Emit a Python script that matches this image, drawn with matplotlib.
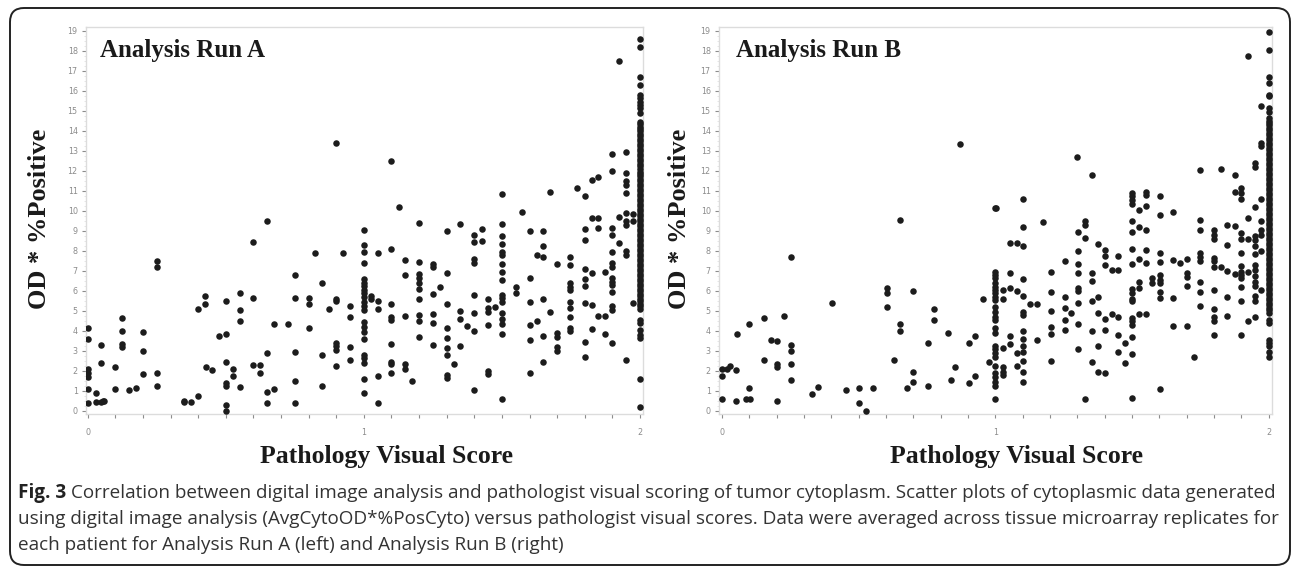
import numpy as np
import matplotlib
matplotlib.use("Agg")
import matplotlib.pyplot as plt
from matplotlib.patches import FancyBboxPatch
from matplotlib.ticker import MultipleLocator

# Run A: (pathology score, OD * %positive)
run_a_points = [
    (0, 4.15), (0, 3.57), (0, 2.08), (0, 1.9), (0, 1.7), (0, 1.07), (0, 0.38),
    (0.03, 0.87), (0.03, 0.43), (0.05, 3.28), (0.05, 2.37), (0.05, 0.45), (0.055, 0.48), (0.06, 0.48),
    (0.1, 2.18), (0.1, 1.07), (0.125, 4.62), (0.125, 4.0), (0.125, 3.35), (0.125, 3.2),
    (0.15, 1.03), (0.175, 1.15), (0.2, 3.95), (0.2, 3.0), (0.2, 1.82),
    (0.25, 7.5), (0.25, 7.18), (0.25, 1.87), (0.25, 1.25),
    (0.35, 0.5), (0.35, 0.43), (0.375, 0.43), (0.4, 0.75), (0.4, 5.1),
    (0.425, 5.73), (0.425, 5.33), (0.43, 2.2), (0.45, 2.02), (0.475, 3.72),
    (0.5, 3.82), (0.5, 5.5), (0.5, 2.45), (0.5, 1.4), (0.5, 1.25), (0.5, 0.27), (0.5, 0.0),
    (0.525, 2.08), (0.525, 1.72), (0.55, 5.88), (0.55, 5.02), (0.55, 4.47), (0.55, 1.17),
    (0.6, 8.45), (0.6, 5.65), (0.6, 2.27), (0.625, 2.27), (0.625, 1.87),
    (0.65, 9.5), (0.65, 2.88), (0.65, 0.95), (0.65, 0.4), (0.675, 4.32), (0.675, 1.08),
    (0.725, 4.32), (0.75, 6.77), (0.75, 5.65), (0.75, 2.93), (0.75, 1.5), (0.75, 0.4),
    (0.825, 7.87), (0.8, 5.62), (0.8, 5.32), (0.8, 4.12), (0.85, 6.4), (0.85, 2.78), (0.85, 1.25),
    (0.875, 5.1), (0.9, 13.4), (0.9, 5.6), (0.9, 5.5), (0.9, 3.4), (0.9, 3.23), (0.9, 3.03), (0.9, 2.23),
    (0.925, 7.87), (0.95, 5.22), (0.95, 4.7), (0.95, 3.18), (0.95, 2.53),
    (1.925, 17.5), (1.1, 12.5), (1.127, 10.2), (1.0, 9.05), (1.2, 9.4), (1.3, 9.0), (1.35, 9.33),
    (1.4, 8.78), (1.427, 9.08), (1.5, 10.83), (1.5, 9.34), (1.5, 8.74), (1.574, 9.93), (1.6, 8.98),
    (1.648, 8.98), (1.673, 10.96), (1.773, 11.16), (1.8, 10.73), (1.825, 11.55), (1.848, 11.71),
    (1.9, 12.85), (1.9, 11.98), (1.95, 12.96), (1.95, 11.88), (1.95, 11.5), (1.95, 11.3), (1.95, 10.9),
    (1.825, 9.63), (1.848, 9.63), (1.8, 9.08), (1.848, 9.13), (1.9, 9.16), (1.9, 8.8), (1.925, 9.7),
    (1.95, 9.9), (1.95, 9.5), (1.95, 9.3), (1.975, 9.85), (1.975, 9.5),
    (1.0, 8.29), (1.0, 7.96), (1.0, 7.4), (1.0, 6.57), (1.0, 6.4), (1.0, 6.24), (1.0, 6.04), (1.0, 5.87),
    (1.0, 5.67), (1.0, 5.46), (1.0, 5.24), (1.0, 5.04), (1.0, 4.45), (1.0, 4.2), (1.0, 3.95), (1.0, 3.57),
    (1.0, 2.79), (1.0, 2.62), (1.0, 2.4), (1.0, 1.58), (1.0, 0.87),
    (1.027, 5.74), (1.027, 5.57), (1.05, 7.9), (1.05, 5.49), (1.05, 5.07), (1.05, 1.73), (1.05, 0.4),
    (1.1, 8.07), (1.1, 5.34), (1.1, 4.7), (1.1, 4.54), (1.1, 3.34), (1.1, 2.45), (1.1, 2.34), (1.1, 1.9),
    (1.15, 7.54), (1.15, 6.79), (1.15, 4.74), (1.15, 2.34), (1.15, 2.07), (1.175, 1.5),
    (1.2, 7.42), (1.2, 6.84), (1.2, 6.62), (1.2, 6.4), (1.2, 6.07), (1.2, 5.59), (1.2, 4.79), (1.2, 4.49), (1.2, 3.67),
    (1.25, 7.32), (1.25, 7.2), (1.25, 5.84), (1.25, 4.82), (1.25, 4.37), (1.25, 3.29), (1.275, 6.17),
    (1.3, 6.9), (1.3, 5.32), (1.3, 4.12), (1.3, 3.62), (1.3, 3.12), (1.3, 2.79), (1.3, 1.79), (1.3, 1.62), (1.326, 2.32),
    (1.35, 4.99), (1.35, 4.57), (1.35, 3.25), (1.375, 4.24),
    (1.4, 8.46), (1.4, 7.57), (1.4, 7.41), (1.4, 5.79), (1.4, 4.87), (1.4, 4.0), (1.4, 1.03), (1.427, 8.5),
    (1.45, 5.57), (1.45, 5.12), (1.45, 4.95), (1.45, 4.29), (1.45, 2.0), (1.45, 1.84), (1.475, 5.17),
    (1.5, 8.32), (1.5, 7.96), (1.5, 7.79), (1.5, 7.32), (1.5, 6.96), (1.5, 6.54), (1.5, 5.79), (1.5, 5.62),
    (1.5, 5.46), (1.5, 4.87), (1.5, 4.57), (1.5, 4.34), (1.5, 3.84), (1.5, 0.57), (1.55, 6.2), (1.55, 5.87),
    (1.6, 6.62), (1.6, 5.46), (1.6, 4.29), (1.6, 3.54), (1.6, 1.87),
    (1.648, 8.26), (1.626, 7.79), (1.648, 7.71), (1.648, 5.61), (1.626, 4.5), (1.648, 3.74), (1.648, 2.45), (1.673, 4.92),
    (1.698, 7.32), (1.698, 3.87), (1.698, 3.67), (1.698, 3.2), (1.698, 2.99),
    (1.748, 7.71), (1.748, 7.29), (1.748, 6.37), (1.748, 6.2), (1.748, 6.04), (1.748, 5.46), (1.748, 5.12),
    (1.748, 4.7), (1.748, 4.12), (1.748, 4.0),
    (1.8, 8.54), (1.8, 7.09), (1.8, 6.57), (1.8, 6.24), (1.8, 5.4), (1.8, 3.45), (1.8, 2.67),
    (1.825, 6.87), (1.825, 5.29), (1.825, 4.07), (1.848, 4.75), (1.873, 6.92), (1.873, 4.75), (1.873, 3.84),
    (1.9, 7.92), (1.9, 7.4), (1.9, 7.2), (1.9, 6.62), (1.9, 6.45), (1.9, 6.29), (1.9, 5.95), (1.9, 5.24),
    (1.9, 5.04), (1.9, 3.4), (1.925, 8.4), (1.95, 8.0), (1.95, 7.79), (1.95, 2.54), (1.975, 5.37),
]
# patients scored 2 in run A (the dense column)
run_a_score2 = [
    18.6, 18.2, 16.7, 16.3, 15.8, 15.64, 15.47, 15.3, 15.13, 14.9,
    14.46, 14.35, 14.21, 14.1, 13.97, 13.85, 13.72, 13.6, 13.49, 13.35, 13.22, 13.1,
    12.98, 12.85, 12.72, 12.6, 12.47, 12.35, 12.22, 12.1, 11.96, 11.85, 11.72, 11.6,
    11.47, 11.35, 11.22, 11.1, 10.97, 10.85, 10.73, 10.6, 10.48, 10.35, 10.22, 10.1,
    9.97, 9.85, 9.73, 9.6, 9.48, 9.35, 9.22, 9.1, 8.97, 8.85, 8.72, 8.6, 8.47, 8.35,
    8.22, 8.1, 7.97, 7.85, 7.72, 7.6, 7.47, 7.35, 7.22, 7.1, 6.97, 6.85, 6.72, 6.6,
    6.47, 6.35, 6.22, 6.1, 5.97, 5.85, 5.72, 5.6, 5.47, 5.35, 5.22, 5.1,
    4.54, 4.37, 4.04, 3.79, 3.62, 1.58, 0.17,
]

# Run B
run_b_points = [
    (0, 2.08), (0.017, 2.08), (0.028, 2.25), (0, 1.75), (0, 0.58), (0.05, 2.04), (0.055, 3.84), (0.05, 0.5),
    (0.087, 0.58), (0.102, 0.58), (0.1, 4.32), (0.1, 1.12), (0.152, 4.62), (0.152, 2.54), (0.178, 3.54),
    (0.2, 3.5), (0.2, 2.34), (0.2, 2.17), (0.2, 0.5), (0.228, 4.76), (0.254, 7.68), (0.254, 3.26),
    (0.254, 2.99), (0.254, 2.34), (0.254, 1.54), (0.328, 0.82), (0.352, 1.2), (0.404, 5.39), (0.453, 1.04),
    (0.502, 1.12), (0.502, 0.4), (0.528, 0.0), (0.553, 1.15), (0.603, 6.16), (0.603, 5.91), (0.603, 5.18),
    (0.629, 2.54), (0.65, 9.55), (0.65, 4.32), (0.65, 3.96), (0.678, 1.15), (0.7, 6.01), (0.7, 1.95),
    (0.7, 1.45), (0.752, 3.37), (0.752, 1.24), (0.777, 5.08), (0.777, 4.54), (0.827, 3.87), (0.852, 2.19),
    (0.837, 1.54), (0.903, 3.37), (0.903, 1.37), (0.926, 3.72), (0.926, 1.75), (0.953, 5.61), (0.978, 2.45),
    (0.871, 13.36), (1.0, 10.13),
    (1, 6.96), (1, 6.79), (1, 6.63), (1, 6.38), (1, 6.21), (1, 6.04), (1, 5.88), (1, 5.71), (1, 5.54),
    (1, 5.18), (1, 4.96), (1, 4.71), (1, 4.54), (1, 4.12), (1, 3.87), (1, 3.24), (1, 3.07), (1, 2.9),
    (1, 2.7), (1, 2.24), (1, 1.87), (1, 1.7), (1, 1.45), (1, 1.25), (1, 0.58),
    (1.027, 6.04), (1.027, 5.59), (1.027, 3.12), (1.027, 2.2), (1.027, 1.95), (1.027, 1.79),
    (1.054, 6.88), (1.054, 6.13), (1.054, 3.71), (1.054, 3.34), (1.054, 8.41), (1.078, 8.41),
    (1.102, 9.18), (1.102, 8.25), (1.078, 5.99), (1.078, 2.87), (1.078, 2.25), (1.102, 6.58), (1.102, 5.74),
    (1.102, 4.96), (1.102, 4.79), (1.102, 3.96), (1.102, 3.57), (1.102, 3.24), (1.102, 2.94), (1.102, 2.49),
    (1.102, 1.95), (1.102, 1.45), (1.128, 5.34), (1.152, 5.34), (1.152, 3.54), (1.176, 9.42),
    (1.203, 6.93), (1.203, 5.96), (1.203, 5.01), (1.203, 4.17), (1.203, 3.82), (1.203, 2.5),
    (1.253, 7.51), (1.253, 5.68), (1.253, 5.13), (1.253, 4.54), (1.253, 4.04), (1.277, 4.87),
    (1.302, 8.96), (1.302, 8.01), (1.302, 7.33), (1.302, 6.88), (1.302, 6.16), (1.302, 5.99), (1.302, 5.38),
    (1.302, 4.32), (1.302, 3.09), (1.327, 9.47), (1.327, 9.3), (1.327, 8.63), (1.327, 0.58),
    (1.352, 6.88), (1.352, 6.49), (1.352, 5.51), (1.352, 3.96), (1.352, 2.45),
    (1.375, 8.35), (1.375, 5.68), (1.375, 4.91), (1.375, 3.21), (1.375, 1.95),
    (1.4, 8.05), (1.4, 7.75), (1.4, 7.3), (1.4, 4.59), (1.4, 4.04), (1.4, 1.87),
    (1.425, 7.05), (1.449, 7.05), (1.449, 7.75), (1.425, 4.82), (1.449, 4.71), (1.449, 3.79), (1.449, 2.95),
    (1.474, 3.37), (1.474, 2.4),
    (1.5, 9.47), (1.5, 8.96), (1.5, 8.08), (1.5, 7.33), (1.5, 6.08), (1.5, 5.91), (1.5, 5.59), (1.5, 5.49),
    (1.5, 4.62), (1.5, 4.46), (1.5, 4.29), (1.5, 3.67), (1.5, 2.82), (1.5, 0.65),
    (1.525, 9.17), (1.55, 9.05), (1.525, 7.6), (1.55, 8.05), (1.55, 7.41), (1.525, 6.46), (1.525, 6.13),
    (1.525, 4.82), (1.55, 4.82), (1.574, 6.63), (1.574, 6.38),
    (1.601, 7.88), (1.601, 7.46), (1.601, 6.79), (1.601, 6.54), (1.601, 6.38), (1.601, 5.96), (1.601, 5.63),
    (1.601, 1.09), (1.651, 7.55), (1.651, 5.66), (1.651, 4.24), (1.675, 7.38),
    (1.7, 7.58), (1.7, 6.91), (1.7, 6.71), (1.7, 6.24), (1.7, 4.24), (1.726, 2.7),
    (1.748, 9.55), (1.748, 9.05), (1.748, 7.91), (1.748, 7.68), (1.748, 7.5), (1.748, 6.43), (1.748, 5.96), (1.748, 5.26),
    (1.8, 9.05), (1.8, 8.8), (1.8, 8.58), (1.8, 7.63), (1.8, 7.5), (1.8, 7.21), (1.824, 7.21), (1.8, 6.04),
    (1.8, 5.09), (1.8, 4.71), (1.8, 4.49), (1.8, 3.76),
    (1.849, 9.3), (1.849, 8.3), (1.849, 7.01), (1.849, 5.71), (1.849, 4.74), (1.875, 9.22), (1.875, 6.83),
    (1.9, 6.93), (1.9, 8.88), (1.9, 8.58), (1.923, 8.58), (1.9, 7.91), (1.9, 7.25), (1.9, 6.79), (1.9, 6.63),
    (1.9, 6.21), (1.9, 5.51), (1.9, 3.79), (1.923, 6.96), (1.923, 4.46),
    (1.948, 8.75), (1.948, 8.55), (1.948, 8.25), (1.948, 7.83), (1.948, 7.3), (1.948, 7.05), (1.948, 6.74),
    (1.948, 6.46), (1.948, 6.24), (1.948, 5.74), (1.948, 5.51), (1.948, 4.67),
    (1.973, 9.05), (1.973, 8.8), (1.973, 8.01), (1.973, 6.04),
    (1.923, 17.73), (1.973, 15.26), (1.973, 13.39), (1.973, 13.22), (1.948, 12.39), (1.948, 12.19),
    (1.748, 12.05), (1.824, 12.1), (1.875, 11.77), (1.9, 11.14), (1.9, 10.88), (1.9, 10.6), (1.875, 10.93),
    (1.973, 10.6), (1.948, 10.18), (1.923, 9.63), (1.973, 9.47),
    (1.3, 12.7), (1.353, 11.8), (1.102, 10.6), (1.002, 10.13),
    (1.5, 10.88), (1.5, 10.72), (1.5, 10.55), (1.5, 10.35), (1.525, 10.05), (1.55, 10.92), (1.55, 10.8),
    (1.55, 10.22), (1.601, 10.72), (1.601, 9.8), (1.651, 9.92),
]
run_b_score2 = [
    18.93, 18.03, 16.69, 16.39, 15.81, 15.73, 15.16, 14.97,
    14.64, 14.52, 14.39, 14.27, 14.14, 14.02, 13.89, 13.77, 13.64, 13.52, 13.39, 13.27,
    13.14, 13.02, 12.89, 12.77, 12.64, 12.52, 12.39, 12.27, 12.14, 12.02, 11.89, 11.77,
    11.64, 11.52, 11.39, 11.27, 11.14, 11.02, 10.89, 10.77, 10.64, 10.52, 10.39, 10.27,
    10.14, 10.02, 9.89, 9.77, 9.64, 9.52, 9.39, 9.27, 9.14, 9.02, 8.89, 8.77, 8.64,
    8.52, 8.39, 8.27, 8.14, 8.02, 7.89, 7.77, 7.64, 7.52, 7.39, 7.27, 7.14, 7.02,
    6.89, 6.77, 6.64, 6.52, 6.39, 6.27, 6.14, 6.02, 5.89, 5.77, 5.64, 5.52, 5.39,
    5.27, 5.14, 5.02, 4.87, 4.54, 4.37, 3.54, 3.37, 3.21, 2.95, 2.7,
]

panel_titles = ["Analysis Run A", "Analysis Run B"]
x_label = "Pathology Visual Score"
y_label = "OD * %Positive"
caption_lines = [
    "Correlation between digital image analysis and pathologist visual scoring of tumor cytoplasm. "
    "Scatter plots of cytoplasmic data generated",
    "using digital image analysis (AvgCytoOD*%PosCyto) versus pathologist visual scores. "
    "Data were averaged across tissue microarray replicates for",
    "each patient for Analysis Run A (left) and Analysis Run B (right)",
]

W, H = 1292, 567
fig = plt.figure(figsize=(W / 100, H / 100), dpi=100)

# rounded frame around the figure, drawn in pixel units
bg = fig.add_axes([0, 0, 1, 1])
bg.set_xlim(0, W)
bg.set_ylim(H, 0)
bg.axis("off")
bg.add_patch(FancyBboxPatch((10, 8), 1280, 557, boxstyle="round,pad=0,rounding_size=14",
                            fill=False, ec="#222222", lw=1.4))

serif = ["Liberation Serif", "DejaVu Serif"]
tick_col = "#8c8c8c"
spine_col = "#dcdcdc"

# axes boxes in pixels: left, top, right, bottom
boxes = [(86, 27, 643, 414), (719, 27, 1272, 414)]
xlims = [(-0.006, 2.011), (-0.011, 2.012)]
datasets = [(run_a_points, run_a_score2), (run_b_points, run_b_score2)]
title_x = [100, 736]
ylabel_x = [40, 680]
xlabel_x = [387, 1016]

for i in range(2):
    l, t, r, b = boxes[i]
    ax = fig.add_axes([l / W, 1 - b / H, (r - l) / W, (b - t) / H])
    pts, col2 = datasets[i]
    xs = [p[0] for p in pts] + [2.0] * len(col2)
    ys = [p[1] for p in pts] + list(col2)
    ax.scatter(xs, ys, s=22, color="#1c1c1c", linewidths=0, zorder=3)

    ax.set_xlim(*xlims[i])
    ax.set_ylim(-0.17, 19.2)
    ax.set_xticks([0, 1, 2])
    ax.xaxis.set_minor_locator(MultipleLocator(0.1))
    ax.set_yticks(np.arange(0, 20, 1))
    ax.yaxis.set_minor_locator(MultipleLocator(0.25))
    for s in ax.spines.values():
        s.set_color(spine_col)
        s.set_linewidth(1.0)
    ax.tick_params(axis="both", which="major", colors=tick_col, labelsize=5.8, length=3, width=0.8)
    ax.tick_params(axis="x", which="major", pad=7)
    ax.tick_params(axis="y", which="major", pad=3)
    ax.tick_params(axis="x", which="minor", colors=tick_col, length=3, width=0.8)
    ax.tick_params(axis="y", which="minor", colors="#e0e0e0", length=1.5, width=0.6)

    fig.text(title_x[i] / W, 1 - 50 / H, panel_titles[i], family=serif, fontweight="bold",
             fontsize=18, color="#1a1a1a", ha="left", va="center")
    fig.text(ylabel_x[i] / W, 1 - 219 / H, y_label, family=serif, fontweight="bold",
             fontsize=19, color="#1a1a1a", rotation=90, ha="center", va="center")
    fig.text(xlabel_x[i] / W, 1 - 456 / H, x_label, family=serif, fontweight="bold",
             fontsize=18.5, color="#1a1a1a", ha="center", va="center")

# caption
cap_font = ["Open Sans", "DejaVu Sans"]
line_y = [493, 519, 545]
for k, line in enumerate(caption_lines):
    x0 = 18 / W
    if k == 0:
        t0 = fig.text(x0, 1 - line_y[k] / H, "Fig. 3", family=cap_font, fontweight="bold",
                      fontsize=13.6, color="#222222", ha="left", va="center")
        fig.canvas.draw()
        bb = t0.get_window_extent()
        x0 = (bb.x1 + 5) / W
    fig.text(x0, 1 - line_y[k] / H, line, family=cap_font, fontsize=13.6,
             color="#333333", ha="left", va="center")

fig.savefig("out.png", dpi=100)
